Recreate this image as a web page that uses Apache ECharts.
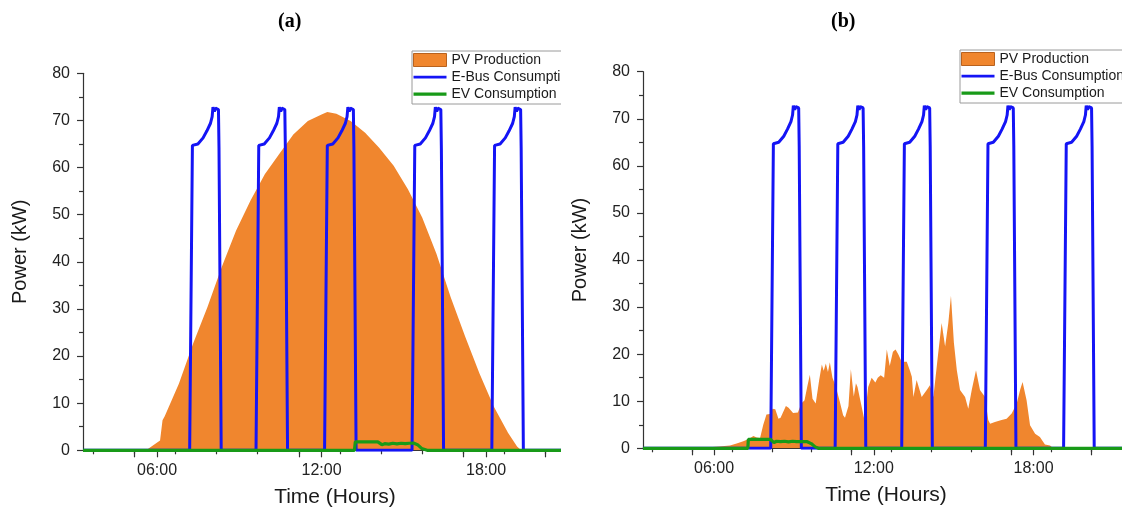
<!DOCTYPE html>
<html><head><meta charset="utf-8">
<script src="https://cdn.jsdelivr.net/npm/echarts@6/dist/echarts.min.js"></script>
<style>
html,body{margin:0;padding:0;background:#fff;overflow:hidden;width:1122px;height:513px;}
.panel{position:absolute;top:0;width:561px;height:513px;overflow:hidden;}
.chart{position:absolute;left:0;top:0;width:620px;height:513px;}
</style></head><body>
<div class="panel" style="left:0"><div id="ca" class="chart"></div></div>
<div class="panel" style="left:561px"><div id="cb" class="chart"></div></div>
<script>
// ---- tick positions / labels (hours) ----
const hourTicks = [3.67, 5.17, 6.67, 8.17, 9.67, 11.17, 12.67, 14.17, 15.67, 17.17, 18.67, 20.17, 21.67];
const longHourTicks = [5.17, 6, 11.17, 12, 17.17, 18, 20.17];
const hourLabels = [6, 12, 18];
const panelTitles = ['(a)', '(b)'];
const seriesNames = ['PV Production', 'E-Bus Consumption', 'EV Consumption'];

// ---- panel (a) ----
const pvA = [[3.3,0],[5.6,0],[6.11,2.1],[6.2,6.4],[6.28,7.2],[6.8,14.2],[7.32,22.7],[7.84,30.4],[8.36,38.9],[8.88,46.6],[9.41,53.0],[9.93,58.6],[10.45,62.8],[10.97,67.0],[11.5,69.9],[12.02,71.3],[12.21,71.8],[12.54,71.4],[13.06,69.9],[13.59,67.4],[14.1,64.2],[14.63,60.4],[15.15,55.4],[15.67,49.4],[16.19,41.7],[16.71,32.5],[17.24,24.1],[17.76,16.3],[18.28,9.3],[18.8,3.7],[19.13,0.8],[19.28,0],[21.7,0]];
const ebusA = [[3.3,0],
 [7.19,0],[7.29,64.7],[7.49,65.0],[7.68,66.3],[7.82,67.8],[7.95,69.4],[8.01,70.8],[8.04,72.8],[8.09,71.9],[8.13,72.6],[8.18,72.4],[8.24,72.3],[8.26,64.0],[8.34,0],
 [9.61,0],[9.71,64.7],[9.91,65.0],[10.10,66.3],[10.24,67.8],[10.37,69.4],[10.43,70.8],[10.46,72.8],[10.51,71.9],[10.55,72.6],[10.60,72.4],[10.66,72.3],[10.68,64.0],[10.76,0],
 [12.11,0],[12.21,64.7],[12.41,65.0],[12.60,66.3],[12.74,67.8],[12.87,69.4],[12.93,70.8],[12.96,72.8],[13.01,71.9],[13.05,72.6],[13.10,72.4],[13.16,72.3],[13.18,64.0],[13.26,0],
 [15.30,0],[15.40,64.7],[15.60,65.0],[15.79,66.3],[15.93,67.8],[16.06,69.4],[16.12,70.8],[16.15,72.8],[16.20,71.9],[16.24,72.6],[16.29,72.4],[16.35,72.3],[16.37,64.0],[16.45,0],
 [18.21,0],[18.31,64.7],[18.51,65.0],[18.70,66.3],[18.84,67.8],[18.97,69.4],[19.03,70.8],[19.06,72.8],[19.11,71.9],[19.15,72.6],[19.20,72.4],[19.26,72.3],[19.28,64.0],[19.36,0],
 [21.7,0]];
const evA = [[3.3,0],[13.2,0],[13.23,1.8],[14.05,1.8],[14.2,1.2],[14.3,1.4],[14.45,1.3],[14.6,1.5],[14.75,1.35],[14.9,1.5],[15.05,1.4],[15.2,1.5],[15.35,1.55],[15.5,1.2],[15.65,0.4],[15.85,0],[21.7,0]];

// ---- panel (b) ----
const pvB = [[3.33,0],[5.6,0],[5.8,0.2],[6.2,0.4],[6.6,0.6],[6.85,1.0],[7.1,1.5],[7.3,2.0],[7.48,2.6],[7.6,2.3],[7.73,2.2],[7.85,5.0],[7.97,7.2],[8.1,7.3],[8.2,8.4],[8.3,8.3],[8.42,6.3],[8.5,6.5],[8.7,9.0],[8.8,8.6],[8.97,7.5],[9.15,7.6],[9.28,9.5],[9.4,10.2],[9.5,13],[9.6,15.6],[9.7,10.5],[9.82,9.5],[9.95,14.5],[10.05,17.8],[10.12,16.5],[10.2,18.0],[10.28,16.2],[10.35,18.3],[10.45,15.0],[10.58,13.0],[10.72,10.0],[10.85,7.0],[10.92,6.5],[11.05,9.0],[11.14,16.8],[11.25,11.0],[11.33,13.8],[11.39,13.0],[11.52,9.5],[11.65,6.0],[11.79,13.0],[11.92,15.0],[12.06,14.0],[12.15,15.0],[12.26,15.5],[12.39,15.0],[12.49,21.0],[12.6,17.5],[12.72,20.5],[12.82,21.0],[12.92,20.0],[13.05,18.4],[13.24,18.4],[13.36,16.5],[13.43,15.2],[13.49,10.9],[13.61,14.5],[13.8,10.9],[13.99,12.4],[14.11,13.4],[14.24,10.9],[14.42,20.2],[14.55,26.6],[14.68,21.6],[14.8,26.6],[14.9,32.4],[15.01,22.4],[15.12,16.6],[15.24,12.4],[15.43,10.9],[15.55,8.4],[15.68,12.4],[15.84,16.6],[15.99,12.4],[16.18,10.9],[16.3,6.0],[16.37,5.2],[16.55,5.6],[16.8,6.0],[16.99,6.3],[17.18,7.4],[17.37,9.5],[17.5,12.5],[17.59,14.1],[17.74,10.2],[17.87,4.9],[18.06,3.1],[18.24,2.4],[18.43,0.8],[18.62,0.6],[18.74,0],[21.6,0]];
const ebusB = [[3.33,0],
 [8.13,0],[8.23,64.7],[8.43,65.0],[8.62,66.3],[8.76,67.8],[8.89,69.4],[8.95,70.8],[8.98,72.8],[9.03,71.9],[9.07,72.6],[9.12,72.4],[9.18,72.3],[9.20,64.0],[9.28,0],
 [10.55,0],[10.65,64.7],[10.85,65.0],[11.04,66.3],[11.18,67.8],[11.31,69.4],[11.37,70.8],[11.40,72.8],[11.45,71.9],[11.49,72.6],[11.54,72.4],[11.60,72.3],[11.62,64.0],[11.70,0],
 [13.05,0],[13.15,64.7],[13.35,65.0],[13.54,66.3],[13.68,67.8],[13.81,69.4],[13.87,70.8],[13.90,72.8],[13.95,71.9],[13.99,72.6],[14.04,72.4],[14.10,72.3],[14.12,64.0],[14.20,0],
 [16.19,0],[16.29,64.7],[16.49,65.0],[16.68,66.3],[16.82,67.8],[16.95,69.4],[17.01,70.8],[17.04,72.8],[17.09,71.9],[17.13,72.6],[17.18,72.4],[17.24,72.3],[17.26,64.0],[17.34,0],
 [19.13,0],[19.23,64.7],[19.43,65.0],[19.62,66.3],[19.76,67.8],[19.89,69.4],[19.95,70.8],[19.98,72.8],[20.03,71.9],[20.07,72.6],[20.12,72.4],[20.18,72.3],[20.20,64.0],[20.28,0],
 [21.6,0]];
const evB = [[3.33,0],[7.27,0],[7.29,1.9],[8.12,1.9],[8.25,1.2],[8.35,1.5],[8.5,1.4],[8.65,1.5],[8.8,1.35],[8.95,1.5],[9.1,1.4],[9.3,1.45],[9.5,1.4],[9.65,1.0],[9.8,0.3],[9.92,0],[21.6,0]];

const FONT = '"Liberation Sans", Arial, sans-serif';
const ORANGE = '#F0862E', BLUE = '#1414F5', GREEN = '#189A18', AXIS = '#333';

function makeOption(p) {
  const xBase = {
    type: 'value', min: p.xmin, max: p.xmax, gridIndex: 0, position: 'bottom',
    splitLine: { show: false }
  };
  return {
    animation: false,
    title: {
      text: p.title, left: p.titleLeft, top: 7,
      textStyle: { fontFamily: '"Liberation Serif", "Times New Roman", serif', fontWeight: 'bold', fontSize: 20, color: '#000' }
    },
    legend: {
      orient: 'vertical', left: p.legLeft, top: p.legTop,
      itemWidth: 33, itemHeight: 13, itemGap: 3,
      padding: [2, 4, 3, 1],
      borderColor: '#9a9a9a', borderWidth: 1, backgroundColor: '#fff',
      textStyle: { fontFamily: FONT, fontSize: 14, color: '#1a1a1a' },
      data: [
        { name: seriesNames[0], icon: 'rect', itemStyle: { color: ORANGE, borderColor: '#b8621f', borderWidth: 1 } },
        { name: seriesNames[1], icon: 'path://M0,0L0.01,0M0,5.2L33,5.2L33,8.0L0,8.0ZM33,13L32.99,13', itemStyle: { color: BLUE, borderWidth: 0 } },
        { name: seriesNames[2], icon: 'path://M0,0L0.01,0M0,4.9L33,4.9L33,8.3L0,8.3ZM33,13L32.99,13', itemStyle: { color: GREEN, borderWidth: 0 } }
      ]
    },
    grid: { left: p.gl, top: p.gt, width: p.gw, height: p.gh },
    xAxis: [
      Object.assign({}, xBase, {
        name: 'Time (Hours)', nameLocation: 'middle', nameGap: 36,
        nameTextStyle: { fontFamily: FONT, fontSize: 21, color: '#1a1a1a' },
        axisLine: { show: true, lineStyle: { color: AXIS, width: 1.2 } },
        axisTick: { show: true, length: 4, customValues: hourTicks, lineStyle: { color: AXIS, width: 1.2 } },
        axisLabel: {
          show: true, customValues: hourLabels, margin: 12,
          fontFamily: FONT, fontSize: 16, color: '#222',
          formatter: v => String(v).padStart(2, '0') + ':00'
        }
      }),
      Object.assign({}, xBase, {
        axisLine: { show: false },
        axisTick: { show: true, length: 7, customValues: longHourTicks, lineStyle: { color: AXIS, width: 1.2 } },
        axisLabel: { show: false }
      })
    ],
    yAxis: {
      type: 'value', min: 0, max: 80, interval: 10,
      name: 'Power (kW)', nameLocation: 'middle', nameGap: 53,
      nameTextStyle: { fontFamily: FONT, fontSize: 20, color: '#1a1a1a', padding: [0, 0, 0, 20] },
      axisLine: { show: true, lineStyle: { color: AXIS, width: 1.2 } },
      axisTick: { show: true, length: 6, lineStyle: { color: AXIS, width: 1.2 } },
      minorTick: { show: true, splitNumber: 2, length: 4, lineStyle: { color: AXIS, width: 1.2 } },
      splitLine: { show: false },
      axisLabel: { margin: 13, fontFamily: FONT, fontSize: 16, color: '#222' }
    },
    series: [
      { type: 'line', name: seriesNames[0], data: p.pv, symbol: 'none', z: 1,
        color: ORANGE, lineStyle: { width: 0 }, areaStyle: { color: ORANGE, opacity: 1 } },
      { type: 'line', name: seriesNames[1], data: p.ebus, symbol: 'none', z: 2,
        color: BLUE, lineStyle: { color: BLUE, width: 3 } },
      { type: 'line', name: seriesNames[2], data: p.ev, symbol: 'none', z: 3,
        color: GREEN, lineStyle: { color: GREEN, width: 3.2 } }
    ]
  };
}

const chartA = echarts.init(document.getElementById('ca'), null, { renderer: 'canvas' });
chartA.setOption(makeOption({
  title: panelTitles[0], titleLeft: 273,
  legLeft: 412, legTop: 51,
  gl: 83, gt: 73.3, gw: 504, gh: 377,
  xmin: 3.3, xmax: 3.3 + 504 / 27.42,
  pv: pvA, ebus: ebusA, ev: evA
}));
const chartB = echarts.init(document.getElementById('cb'), null, { renderer: 'canvas' });
chartB.setOption(makeOption({
  title: panelTitles[1], titleLeft: 265,
  legLeft: 399, legTop: 50,
  gl: 82, gt: 71.7, gw: 486, gh: 376.6,
  xmin: 3.333, xmax: 3.333 + 486 / 26.625,
  pv: pvB, ebus: ebusB, ev: evB
}));
</script>
</body></html>
